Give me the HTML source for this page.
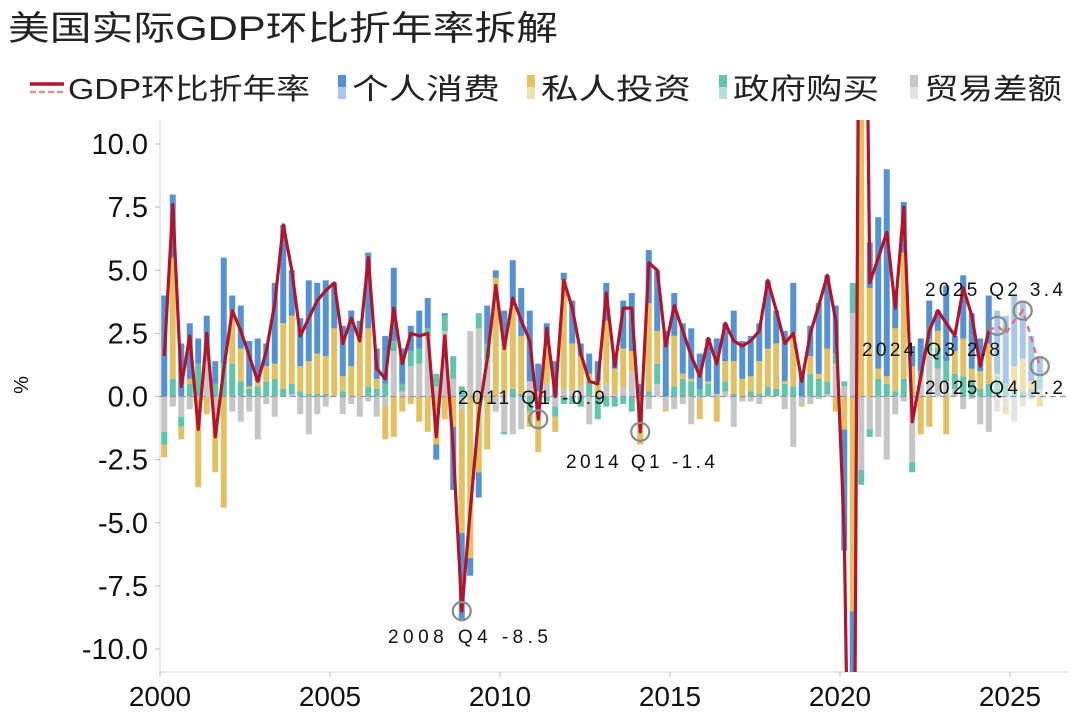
<!DOCTYPE html>
<html><head><meta charset="utf-8">
<style>
html,body{margin:0;padding:0;background:#fff;}
body{width:1080px;height:724px;overflow:hidden;font-family:"Liberation Sans","Noto Sans CJK SC",sans-serif;}
svg{display:block;}
svg text{font-family:"Liberation Sans","Noto Sans CJK SC",sans-serif;}
</style></head>
<body>
<svg id="chart" width="1080" height="724" viewBox="0 0 1080 724" xmlns="http://www.w3.org/2000/svg">
<text x="8" y="40" font-size="34" fill="#222" textLength="550" lengthAdjust="spacingAndGlyphs">美国实际GDP环比折年率拆解</text>
<g id="legend" font-size="28" fill="#222"></g>
<g id="plot"></g>
</svg>
<script>
const years = ['2000','2005','2010','2015','2020','2025'];
const yTicks = [10,7.5,5,2.5,0,-2.5,-5,-7.5,-10];
const gdp = [1.6,7.6,0.4,2.4, -1.3,2.5,-1.6,1.1, 3.4,2.6,1.6,0.6, 1.8,3.7,6.8,5.0, 2.4,3.1,3.8,4.2, 4.5,2.1,3.1,2.2, 5.5,1.1,0.7,3.5, 1.3,2.5,2.4,2.5, -1.6,2.4,-2.1,-8.5, -4.5,-0.7,1.5,4.4, 1.9,3.9,3.0,2.2, -0.9,2.7,0.0,4.6, 3.5,1.7,0.6,0.5, 4.1,1.2,3.5,3.5, -1.4,5.3,5.0,2.0, 3.6,2.6,1.6,0.8, 2.3,1.3,2.9,2.2, 2.0,2.2,2.6,4.6, 3.4,2.1,2.5,0.6, 2.5,3.6,4.8,3.0, -5.5,-28.0,34.8,4.5, 5.5,6.5,3.5,7.5, -1.0,0.8,2.6,3.4, 2.9,2.4,4.3,3.2, 1.2,2.6,2.8,2.5, 3.0,3.4,2.3,1.2];
const consumption = [4.0,2.5,2.1,2.2, 1.0,1.0,0.9,4.2, 0.6,1.7,1.8,1.7, 0.9,3.2,3.9,1.8, 1.9,3.2,2.8,3.0, 1.8,2.0,2.2,0.5, 3.0,1.2,1.9,2.9, 1.4,1.0,1.5,1.2, -0.6,0.1,-2.5,-3.5, -0.7,-1.0,1.5,0.3, 1.1,1.8,1.9,2.8, 1.1,0.8,1.4,0.3, 1.7,0.5,0.8,0.8, 1.5,0.5,1.9,2.3, 0.5,2.1,2.4,2.6, 1.7,2.0,2.0,1.4, 1.7,2.2,1.5,2.0, 1.5,1.6,1.5,2.7, 1.3,2.0,2.0,1.0, 1.2,2.8,2.9,1.9, -4.8,-24.0,25.3,1.8, 6.0,8.2,1.5,2.0, 0.8,1.3,1.5,0.8, 3.0,0.6,2.5,2.2, 1.3,1.9,2.5,2.7, 2.8,2.3,1.8,0.7];
const investment = [-0.5,4.8,-0.5,0.2, -3.6,-0.7,-2.4,-4.4, 2.1,1.3,0.1,0.2, 0.6,0.6,2.6,2.7, 1.0,1.3,1.6,1.5, 2.7,0.6,1.2,2.5, 2.3,0.4,-1.3,-1.6, -0.6,-0.3,-1.0,-1.4, -1.9,-0.9,-1.2,-4.9, -6.4,-3.0,-2.1,4.7, 2.3,3.3,2.3,-0.6, -1.6,1.6,-0.6,4.3, 1.9,1.2,0.3,0.5, 2.5,1.0,1.5,0.8, -0.9,3.5,1.3,-0.1, 2.0,0.2,0.1,-0.8, 0.1,-1.0,0.8,1.3, 0.7,0.6,1.3,1.5, 1.8,0.1,2.1,-0.1, 0.7,0.2,1.3,-0.6, -1.3,-8.5,13.0,4.3, 0.4,0.3,2.5,5.0, 1.2,-1.5,-1.2,0.7, -1.5,0.9,1.5,0.5, 0.7,1.6,0.1,-0.3, 1.0,1.3,0.3,-0.4];
const government = [-0.5,0.7,-0.4,0.5, 1.3,0.8,0.5,1.3, 1.3,0.6,0.3,0.4, 0.6,0.7,0.3,0.4, 0.2,0.1,0.1,0.1, 0.0,0.2,0.0,0.0, 0.4,0.3,0.5,0.4, 0.3,0.6,0.6,0.3, 0.5,0.6,0.9,0.4, 0.0,0.6,0.6,0.0, -0.1,0.3,0.1,-0.6, -0.6,-0.2,-0.4,-0.3, -0.3,-0.4,0.6,-0.9, -0.4,-0.4,-0.3,-0.6, -0.5,0.2,0.8,0.0, 0.4,0.7,0.6,0.3, 0.5,0.0,0.4,0.1, 0.0,0.2,0.1,0.4, 0.3,0.5,0.4,0.0, 0.9,0.7,0.5,0.4, 0.2,1.2,-0.6,-0.3, 0.7,0.5,0.2,0.7, -0.4,0.2,0.5,0.8, 0.8,0.6,0.8,0.6, 0.3,0.5,0.8,0.5, 0.2,0.2,0.3,0.6];
const netExports = [-1.4,-0.4,-0.8,-0.5, 0.0,1.4,-0.6,0.0, -0.6,-1.0,-0.6,-1.7, -0.3,-0.8,0.0,0.1, -0.7,-1.5,-0.7,-0.4, 0.0,-0.7,-0.3,-0.8, -0.2,-0.8,-0.4,1.8, 0.2,1.2,1.3,2.4, 0.4,2.6,0.7,-0.5, 2.6,2.7,1.5,-0.6, -1.4,-1.5,-1.3,0.6, 0.2,0.5,-0.4,0.3, 0.2,0.4,-1.1,0.1, 0.5,0.1,0.4,1.0, -0.5,-0.5,0.5,-0.5, -0.5,-0.3,-1.1,-0.1, 0.0,0.1,0.2,-1.2, -0.2,-0.2,-0.3,0.0, 0.0,-0.5,-2.0,-0.3, -0.3,-0.1,0.1,1.3, 0.4,3.3,-2.9,-1.3, -1.6,-2.5,-0.7,-0.2, -2.6,0.8,1.8,1.1, 0.6,0.3,-0.5,-0.1, -1.1,-1.4,-0.6,-0.4, -1.0,-0.4,-0.1,0.3];
const annotations = [
  {q:35, v:-8.5, label:'2008 Q4 -8.5'},
  {q:44, v:-0.9, label:'2011 Q1 -0.9'},
  {q:56, v:-1.4, label:'2014 Q1 -1.4'},
  {q:98, v:2.8, label:'2024 Q3 2.8'},
  {q:101, v:3.4, label:'2025 Q2 3.4'},
  {q:103, v:1.2, label:'2025 Q4 1.2'}
];
const forecastStart = 98;

const NS = 'http://www.w3.org/2000/svg';
const X0 = 160, PX_PER_YEAR = 34, Y0 = 396.5, PX_PER_UNIT = 25.25;
const PL = 160, PR = 1068, PT = 120, PB = 672;
function xYear(y){ return X0 + y * PX_PER_YEAR; }
function xQ(i){ return X0 + (i + 0.5) * PX_PER_YEAR / 4; }
function yV(v){ return Y0 - v * PX_PER_UNIT; }
function mk(tag, attrs, parent){ const e = document.createElementNS(NS, tag); for (const k in attrs) e.setAttribute(k, attrs[k]); parent.appendChild(e); return e; }

const svg = document.getElementById('chart');
const plot = document.getElementById('plot');
const defs = mk('defs', {}, svg);
const cp = mk('clipPath', {id:'clip'}, defs);
mk('rect', {x:PL, y:PT, width:PR-PL, height:PB-PT}, cp);

const axisL = mk('line', {x1:PL, y1:PT, x2:PL, y2:PB, stroke:'#d9d9d9', 'stroke-width':1.2}, plot);


const axisB = mk('line', {x1:PL, y1:PB, x2:PR, y2:PB, stroke:'#d9d9d9', 'stroke-width':1.2}, plot);



yTicks.forEach(t => {
  const y = yV(t);
  mk('line', {x1:PL-5, y1:y, x2:PL, y2:y, stroke:'#bbb'}, plot);
  const tx = mk('text', {x:148, y:y+10, 'text-anchor':'end', 'font-size':29, fill:'#111'}, plot);
  tx.textContent = t.toFixed(1);
  
  
});
years.forEach((yr, k) => {
  const x = xYear(k * 5);
  mk('line', {x1:x, y1:PB, x2:x, y2:PB+5, stroke:'#bbb'}, plot);
  const tx = mk('text', {x:x, y:706, 'text-anchor':'middle', 'font-size':28, fill:'#111'}, plot);
  tx.textContent = yr;
  
  
});
const yt = mk('text', {x:28, y:385, 'text-anchor':'middle', 'font-size':20, fill:'#111', transform:'rotate(-90 28 385)'}, plot);
yt.textContent = '%';



const g = mk('g', {'clip-path':'url(#clip)'}, plot);
const series = [
  {vals:netExports, c:'#c6c6c6', f:'#e4e4e4', name:'net-exports'},
  {vals:government, c:'#62c4aa', f:'#b2e2d5', name:'government'},
  {vals:investment, c:'#e3c162', f:'#f1e0b0', name:'investment'},
  {vals:consumption, c:'#5592d3', f:'#a9c9ea', name:'consumption'}
];
const BW = 6;
for (let i = 0; i < gdp.length; i++) {
  let pos = 0, neg = 0;
  const fc = i >= forecastStart;
  series.forEach(s => {
    const v = s.vals[i];
    let y1, y2;
    if (v >= 0) { y1 = yV(pos + v); y2 = yV(pos); pos += v; }
    else { y1 = yV(neg); y2 = yV(neg + v); neg += v; }
    const r = mk('rect', {x:xQ(i)-BW/2, y:y1, width:BW, height:Math.max(0, y2-y1), fill: fc ? s.f : s.c}, g);
    
    
  });
}
const zl = mk('line', {x1:PL, y1:Y0, x2:PR, y2:Y0, stroke:'#999', 'stroke-width':1.2, 'stroke-dasharray':'6 4'}, g);



let d1 = '', d2 = '';
for (let i = 0; i < gdp.length; i++) {
  if (i <= forecastStart - 1) d1 += (i ? 'L' : 'M') + xQ(i).toFixed(1) + ',' + yV(gdp[i]).toFixed(1);
  if (i >= forecastStart - 1) d2 += (i === forecastStart - 1 ? 'M' : 'L') + xQ(i).toFixed(1) + ',' + yV(gdp[i]).toFixed(1);
}
const ln = mk('path', {d:d1, fill:'none', stroke:'#b3132b', 'stroke-width':3.2, 'stroke-linejoin':'round'}, g);


const ln2 = mk('path', {d:d2, fill:'none', stroke:'#e0707e', 'stroke-width':2.4, 'stroke-dasharray':'6 5'}, g);



const labelPos = {0:[388,643,160],1:[458,404,147],2:[566,468,149],3:[862,356,138],4:[925,296,138],5:[925,394,138]};
annotations.forEach((a, k) => {
  const c = mk('circle', {cx:xQ(a.q), cy:yV(a.v), r:9, fill:'none', stroke:'#8a8a8a', 'stroke-width':2.2}, plot);
  
  
  const p = labelPos[k];
  const t = mk('text', {x:p[0], y:p[1], 'font-size':19, fill:'#111', textLength:p[2], lengthAdjust:'spacing'}, plot);
  t.textContent = a.label;
  
  
});

const lg = document.getElementById('legend');
mk('line', {x1:30, y1:84, x2:64, y2:84, stroke:'#b3132b', 'stroke-width':3.5}, lg);
mk('line', {x1:30, y1:92, x2:64, y2:92, stroke:'#e0909a', 'stroke-width':2.5, 'stroke-dasharray':'6 3'}, lg);
const lt = mk('text', {x:68, y:99, 'font-size':29, fill:'#222', textLength:242, lengthAdjust:'spacingAndGlyphs'}, lg);
lt.textContent = 'GDP环比折年率';


const legItems = [
  {x:338, c:'#5592d3', f:'#a9c9ea', t:'个人消费', w:148},
  {x:527, c:'#e3c162', f:'#f1e0b0', t:'私人投资', w:150},
  {x:719, c:'#62c4aa', f:'#b2e2d5', t:'政府购买', w:146},
  {x:910, c:'#c6c6c6', f:'#e4e4e4', t:'贸易差额', w:138}
];
legItems.forEach(it => {
  mk('rect', {x:it.x, y:75, width:8, height:12, fill:it.c}, lg);
  mk('rect', {x:it.x, y:87, width:8, height:12, fill:it.f}, lg);
  const t = mk('text', {x:it.x+14, y:99, 'font-size':29, fill:'#222', textLength:it.w, lengthAdjust:'spacingAndGlyphs'}, lg);
  t.textContent = it.t;
  
  
});
</script>
</body></html>
